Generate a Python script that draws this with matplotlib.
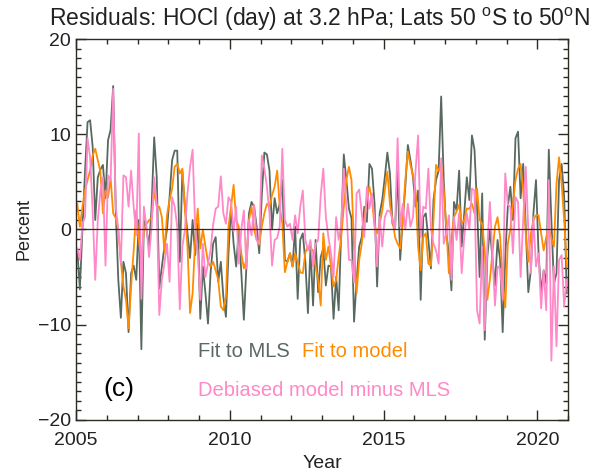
import numpy as np
import matplotlib
matplotlib.use('Agg')
import matplotlib.pyplot as plt
from matplotlib.ticker import MultipleLocator

plt.rcParams['font.family'] = ['Liberation Sans', 'DejaVu Sans']
plt.rcParams['mathtext.fontset'] = 'custom'
plt.rcParams['mathtext.rm'] = 'Liberation Sans'

# monthly residuals (percent), Jan 2005 - Dec 2020
fit_mls = [
    -2.2, -6.3, 0, 6, 11.3, 11.5, 8.7, 1, 5.5, 6.3, 6.8, 3.3,
    9.4, 10.5, 15.1, 2, -5.3, -9.3, -3.4, -4.6, -10.8, -4.6, -3.8, -5.3,
    1, -12.6, 1, 0, -1.8, 2.4, 9.7, 5.5, -6.2, -3.9, -1.8, 0,
    3.4, 7.3, 8.3, 8.3, -3.4, 6.1, 2.4, -0.4, -3, 1, -2.7, 0.6,
    -9.4, -3.9, -6.7, -9.9, -4.6, -1.5, -0.8, -5.5, -3.4, -7.1, -9.2, -2.5,
    2.4, -1.5, -3.9, 0, -4.5, -9.5, -3.9, 1.7, 2.9, 2.4, 0.3, -2.5,
    3.6, 8.1, 7.9, 6.2, 0, 3.3, 1.7, 2.7, 5.2, -3.2, -3.4, -2.5,
    -3.9, 0.3, -7.3, -1.1, -0.4, -3.4, -8.8, -1.8, -8, -1.1, -6.6, -2.9,
    -2, -5.9, -3.8, -3.9, -9.4, -5, -8.5, 0, 7.9, 5.2, 2.2, 1.2,
    -9.7, -5.3, -1.8, -0.8, 2.4, 0.8, 6.9, 6.4, 2.7, -6, 1.7, 3.1,
    5.5, 8.1, 5.9, 0.6, 0.1, 6.1, -3.2, 1, 4.5, 8.9, 7.3, 5.5,
    2.4, 4.1, -7.4, 1.3, 1.7, -1.1, -4.1, 3.1, 5.2, 6.2, 14, 5.2,
    -0.4, -2.5, -6.4, 2.9, 2, 6.2, -1.8, 1.7, 5.5, 3.1, 9.9, 8.4,
    2.4, -5, 3.8, -11.6, -2.9, 0, -2.9, -5.9, -1.1, -3.2, -10.8, -2.9,
    2.4, 4.5, 1, 9.6, 10.3, 3.3, 6.9, 0.3, -6.6, -4.3, 1.7, 5.2,
    -2.5, -6.6, -4.3, -5.7, 8.4, 1, -5.7, -4.6, 5.2, 6.9, 3.4, -6.7,
]
fit_model = [
    2.7, 0.3, 2.4, 4.1, 5.2, 6.2, 7.8, 8.5, 7.3, 6.1, 1.7, 4.1,
    3.4, 5.4, 1.7, 1.2, 0, -3.4, -6, -7.4, -10.4, -6, -2.2, 2,
    -1.1, -3.2, 0, 0.6, 1, 1.2, 4.1, 2.4, 2.4, 1.3, -2.4, 1.5,
    3.1, 4.3, 6.6, 6.9, 5.9, 6.4, 2.2, -1.8, -8.8, -6.7, -1.1, 2.2,
    -2, 0, -1.8, -3.4, -3.9, -3.4, -4.3, -5.3, -8.1, -8.5, -7.1, 0.3,
    2.4, 4.7, 1, 0.3, -2.5, -4.1, -3.2, 1, 2.4, 0, -1.1, -1.6,
    0.3, 1.7, 2.7, 2.4, 3.6, 4.5, 6.2, 2.4, 0.6, -4.5, -3.4, -2.5,
    -3.9, -2.5, -3.4, -4.5, -4.6, -2.4, -1.8, -2, -2.2, -3.9, -5.3, -8,
    -0.4, -3.2, -1.8, -3.9, -6, -5.3, -2.9, -0.8, 2.4, 5.2, 6.6, 5.2,
    -1.8, -6.7, -3.2, -1.5, 1, 3.4, 4.5, 3.1, 0.3, -0.4, 0.6, 2,
    4.1, 6.1, 2.7, 1, -0.8, -1.5, -2, 1, 5.2, 8.2, 6.8, 5.7,
    4.1, -1.8, -4.3, -0.8, -0.4, -3.6, -3.8, 1, 6.8, 6.2, 6.9, 4.1,
    0.3, -4.6, -0.8, 1.3, 1.9, 2.6, 0.6, 1, 2.2, 2.2, 2.7, 1.7,
    4.3, 1, 0.6, -2.2, -7.4, -5.3, -2.5, 0.3, 1.3, -0.8, -5.3, -8.2,
    -1.5, 0, 2.7, 5.2, 6.4, 6.9, 4.1, -0.4, -3.4, -0.4, 1, 1.5,
    1.5, -0.4, -2.2, -0.8, 0.3, -0.9, -1.8, 4.8, 7.6, 4.8, 1, -3.9,
]
debiased = [
    -2, -3.2, 0.6, 1.3, 9.6, 7.6, 1.9, -5.3, 1, 4, 5.5, -3.8,
    5.7, 5.2, 14.8, 2.4, 0, -3.6, 5.7, 5.5, 2.4, 6.2, 2.4, -0.6,
    10.1, -7.3, 2.4, 0.3, -2.9, 0.3, 5.5, 2.6, -9, -5.3, -3.6, -1.5,
    -5.5, 3.4, 2.4, 0.3, -8.4, -1.8, 0, 3.8, 6.6, 8.4, 0.3, -2.5,
    -7.4, -1.5, -5, -3.6, -2.2, 0.5, 2.2, 2.4, 5.6, 1.7, 0.6, 3.4,
    2.9, -0.2, 2.4, -3.6, 0, 2, -4.1, 1, -0.6, 2.6, -1.1, -1.5,
    7.8, 6.4, 4.5, 1.7, -3.8, -1.1, -0.9, 0.3, 8.5, 1, 0.3, 0.6,
    -1.1, 1.5, -0.4, 2.4, 4.1, -1.1, -2.2, -1.1, -3.9, -1.5, -1.1, 3.6,
    6.4, 1.3, -0.8, -2.5, -5, 1.3, -1.1, 0.6, 6.4, 2.4, -3.2, -3.2,
    -5.6, 3.8, 4.2, 1.7, -0.8, 4.5, 2.2, 3.8, 1, -3.9, 1.3, -1.8,
    1.3, 2, 1.9, 1, 0, 9.6, 0.3, 2.7, 0, 2.7, 0.3, 1.3,
    6.2, 9.9, -0.8, 2.4, 2.2, 6.4, 0, -1.5, -2.2, -3.6, 7.5, -1.5,
    -0.4, 1.5, -5.3, 1.3, -1.1, 1.7, -4.6, -0.8, 1.7, 0, 4.3, 4.1,
    -8.5, -9.9, -1.8, -10.6, -1.8, 2.9, -2.5, -8, -3.9, -4.1, -7.4, 5.9,
    2.6, 2.4, -2.5, 3.4, 2.9, -5, 1, 6.6, 0, -4.6, 1.3, -3.9,
    -2.5, -8.3, -4.3, -8.5, 5.2, -13.8, -3.9, -12.3, -3.2, -2.7, -8.1, -5.3,
]
start_year = 2005
year_ticks = [2005, 2010, 2015, 2020]

months = np.arange(len(fit_mls))
t = start_year + (months + 0.5) / 12.0

c_mls = '#58695f'
c_model = '#ff8c00'
c_deb = '#ff88c8'
c_axis = '#2b2b22'

fig = plt.figure(figsize=(6.0, 4.73), dpi=100)
ax = fig.add_axes([0.1267, 0.1131, 0.82, 0.8034])

ax.plot(t, fit_mls, color=c_mls, lw=1.3)
ax.plot(t, fit_model, color=c_model, lw=1.3)
ax.plot(t, debiased, color=c_deb, lw=1.3)
ax.axhline(0, color=c_axis, lw=0.9, zorder=5)

ax.set_xlim(2005, 2021)
ax.set_ylim(-20, 20)
ax.set_xticks(year_ticks)
ax.set_xticklabels([str(y) for y in year_ticks])
ax.xaxis.set_minor_locator(MultipleLocator(1))
ax.set_yticks([-20, -10, 0, 10, 20])
ax.yaxis.set_minor_locator(MultipleLocator(1))
ax.tick_params(which='both', direction='in', top=True, right=True,
               color=c_axis, labelsize=14, labelcolor='#222222')
ax.tick_params(which='major', length=7, width=1)
ax.tick_params(which='minor', length=3.6, width=1)
ax.tick_params(axis='x', pad=9)
for s in ax.spines.values():
    s.set_color(c_axis)
    s.set_linewidth(1)

ax.set_xlabel('Year', fontsize=14, color='#222222', labelpad=4)
ax.set_ylabel('Percent', fontsize=13, color='#222222', labelpad=4)

fig.text(0.533, 0.945, 'Residuals: HOCl (day) at 3.2 hPa; Lats 50 $^\\mathrm{o}$S to 50$^\\mathrm{o}$N',
         ha='center', va='baseline', fontsize=16.5, color='#222222')

# in-plot legend
ax.text(0.248, 0.164, 'Fit to MLS', transform=ax.transAxes, color=c_mls, fontsize=14.5, va='baseline')
ax.text(0.459, 0.164, 'Fit to model', transform=ax.transAxes, color=c_model, fontsize=14.5, va='baseline')
ax.text(0.248, 0.062, 'Debiased model minus MLS', transform=ax.transAxes, color=c_deb, fontsize=14.5, va='baseline')
ax.text(0.055, 0.062, '(c)', transform=ax.transAxes, color='black', fontsize=19, va='baseline')

fig.savefig('out.png', dpi=100)
